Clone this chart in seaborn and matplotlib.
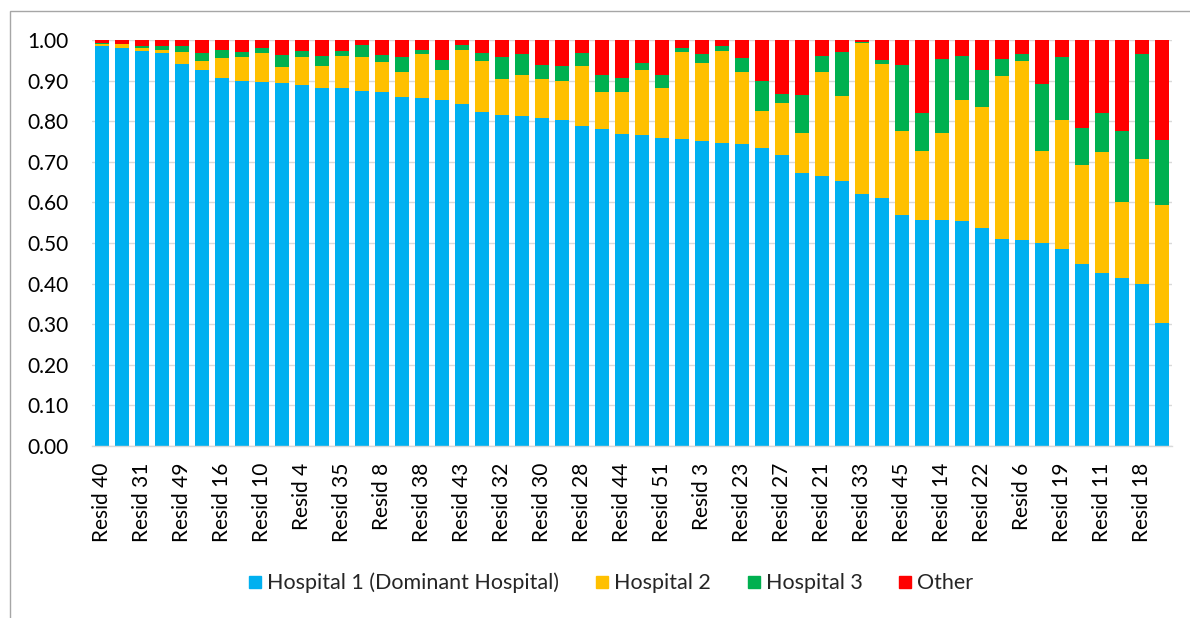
import numpy as np
import pandas as pd
import matplotlib.pyplot as plt
import seaborn as sns
from matplotlib.lines import Line2D
from matplotlib.patches import Rectangle

# ======================
# Data (shares of admissions per resident)
# ======================
# only every other resident is labelled in the source; the unlabelled
# positions hold the remaining resident numbers (order there is a guess)
residents = [
    "Resid 40", "Resid 1", "Resid 31", "Resid 2", "Resid 49", "Resid 5",
    "Resid 16", "Resid 7", "Resid 10", "Resid 9", "Resid 4", "Resid 12",
    "Resid 35", "Resid 13", "Resid 8", "Resid 15", "Resid 38", "Resid 17",
    "Resid 43", "Resid 20", "Resid 32", "Resid 24", "Resid 30", "Resid 25",
    "Resid 28", "Resid 26", "Resid 44", "Resid 29", "Resid 51", "Resid 34",
    "Resid 3", "Resid 36", "Resid 23", "Resid 37", "Resid 27", "Resid 39",
    "Resid 21", "Resid 41", "Resid 33", "Resid 42", "Resid 45", "Resid 46",
    "Resid 14", "Resid 47", "Resid 22", "Resid 48", "Resid 6", "Resid 50",
    "Resid 19", "Resid 52", "Resid 11", "Resid 53", "Resid 18", "Resid 54",
]

hospital_1 = [0.984, 0.981, 0.974, 0.969, 0.942, 0.925, 0.907, 0.898, 0.896, 0.893,
              0.889, 0.883, 0.883, 0.874, 0.871, 0.859, 0.858, 0.853, 0.843, 0.822,
              0.816, 0.814, 0.807, 0.804, 0.789, 0.780, 0.769, 0.766, 0.758, 0.756,
              0.751, 0.746, 0.745, 0.734, 0.717, 0.672, 0.666, 0.652, 0.620, 0.612,
              0.570, 0.557, 0.557, 0.554, 0.538, 0.510, 0.508, 0.501, 0.485, 0.448,
              0.425, 0.415, 0.399, 0.302]
hospital_2 = [0.006, 0.008, 0.006, 0.007, 0.028, 0.023, 0.048, 0.059, 0.071, 0.040,
              0.070, 0.054, 0.078, 0.083, 0.076, 0.063, 0.107, 0.074, 0.133, 0.126,
              0.087, 0.101, 0.098, 0.095, 0.146, 0.091, 0.102, 0.159, 0.125, 0.214,
              0.192, 0.226, 0.175, 0.091, 0.127, 0.100, 0.256, 0.210, 0.373, 0.328,
              0.205, 0.169, 0.213, 0.298, 0.298, 0.401, 0.441, 0.225, 0.319, 0.245,
              0.298, 0.186, 0.308, 0.292]
hospital_3 = [0.002, 0.002, 0.005, 0.008, 0.016, 0.021, 0.021, 0.014, 0.013, 0.031,
              0.015, 0.024, 0.011, 0.030, 0.016, 0.037, 0.011, 0.024, 0.012, 0.021,
              0.054, 0.051, 0.034, 0.036, 0.033, 0.042, 0.036, 0.018, 0.030, 0.011,
              0.023, 0.013, 0.035, 0.075, 0.024, 0.092, 0.039, 0.108, 0.002, 0.011,
              0.163, 0.094, 0.182, 0.109, 0.091, 0.042, 0.017, 0.166, 0.154, 0.090,
              0.097, 0.175, 0.259, 0.160]
other = [0.008, 0.009, 0.015, 0.016, 0.014, 0.031, 0.024, 0.029, 0.020, 0.036,
         0.026, 0.039, 0.028, 0.013, 0.037, 0.041, 0.024, 0.049, 0.012, 0.031,
         0.043, 0.034, 0.061, 0.065, 0.032, 0.087, 0.093, 0.057, 0.087, 0.019,
         0.034, 0.015, 0.045, 0.100, 0.132, 0.136, 0.039, 0.030, 0.005, 0.049,
         0.062, 0.180, 0.048, 0.039, 0.073, 0.047, 0.034, 0.108, 0.042, 0.217,
         0.180, 0.224, 0.034, 0.246]

series_names = ["Hospital 1 (Dominant Hospital)", "Hospital 2", "Hospital 3", "Other"]
colors = ["#00B0F0", "#FFC000", "#00B050", "#FF0000"]

df = pd.DataFrame({"resid": residents, "h1": hospital_1, "h2": hospital_2,
                   "h3": hospital_3, "other": other})
# cumulative tops for stacking
df["c1"] = df["h1"]
df["c2"] = df["c1"] + df["h2"]
df["c3"] = df["c2"] + df["h3"]
df["c4"] = df["c3"] + df["other"]

# ======================
# Plot
# ======================
sns.set_theme(style="white")
plt.rcParams["font.family"] = ["Lato", "DejaVu Sans"]

fig = plt.figure(figsize=(11.9, 6.18), dpi=100)
ax = fig.add_axes([92 / 1190, 1 - 446 / 618, 1080 / 1190, 406 / 618])

# draw from the top of the stack downwards so each layer covers the previous
for col, color in zip(["c4", "c3", "c2", "c1"], colors[::-1]):
    sns.barplot(data=df, x="resid", y=col, order=residents, color=color,
                saturation=1, width=0.67, errorbar=None, linewidth=0, ax=ax)

ax.set_ylim(0, 1)
ax.set_xlim(-0.5, len(residents) - 0.5)
ax.set_yticks(np.arange(0, 1.01, 0.1))
ax.set_yticklabels([f"{v:.2f}" for v in np.arange(0, 1.01, 0.1)], fontsize=15, color="black")
ax.set_xticks(range(0, len(residents), 2))
ax.set_xticklabels(residents[::2], rotation=90, fontsize=15, color="black", va="top")
ax.tick_params(axis="x", length=0, pad=12)
ax.tick_params(axis="y", length=0, pad=17)
ax.set_xlabel("")
ax.set_ylabel("")

ax.yaxis.grid(True, color="#D9D9D9", linewidth=1)
ax.set_axisbelow(True)
for side in ["top", "right", "left"]:
    ax.spines[side].set_visible(False)
ax.spines["bottom"].set_color("#D9D9D9")
ax.spines["bottom"].set_linewidth(1)

handles = [Line2D([0], [0], marker="s", linestyle="none", markersize=8.5,
                  markerfacecolor=c, markeredgecolor=c) for c in colors]
fig.legend(handles, series_names, loc="center", bbox_to_anchor=(610 / 1190, 1 - 583 / 618),
           ncol=4, frameon=False, fontsize=15.5, handletextpad=0.15, columnspacing=1.6,
           handlelength=0.8)

# chart frame
fig.patches.append(Rectangle((10 / 1190, -0.05), 1.2, 1 - 11 / 618 + 0.05,
                             transform=fig.transFigure, fill=False,
                             edgecolor="#A6A6A6", linewidth=1))

plt.savefig("out.png", dpi=100)
plt.close()
